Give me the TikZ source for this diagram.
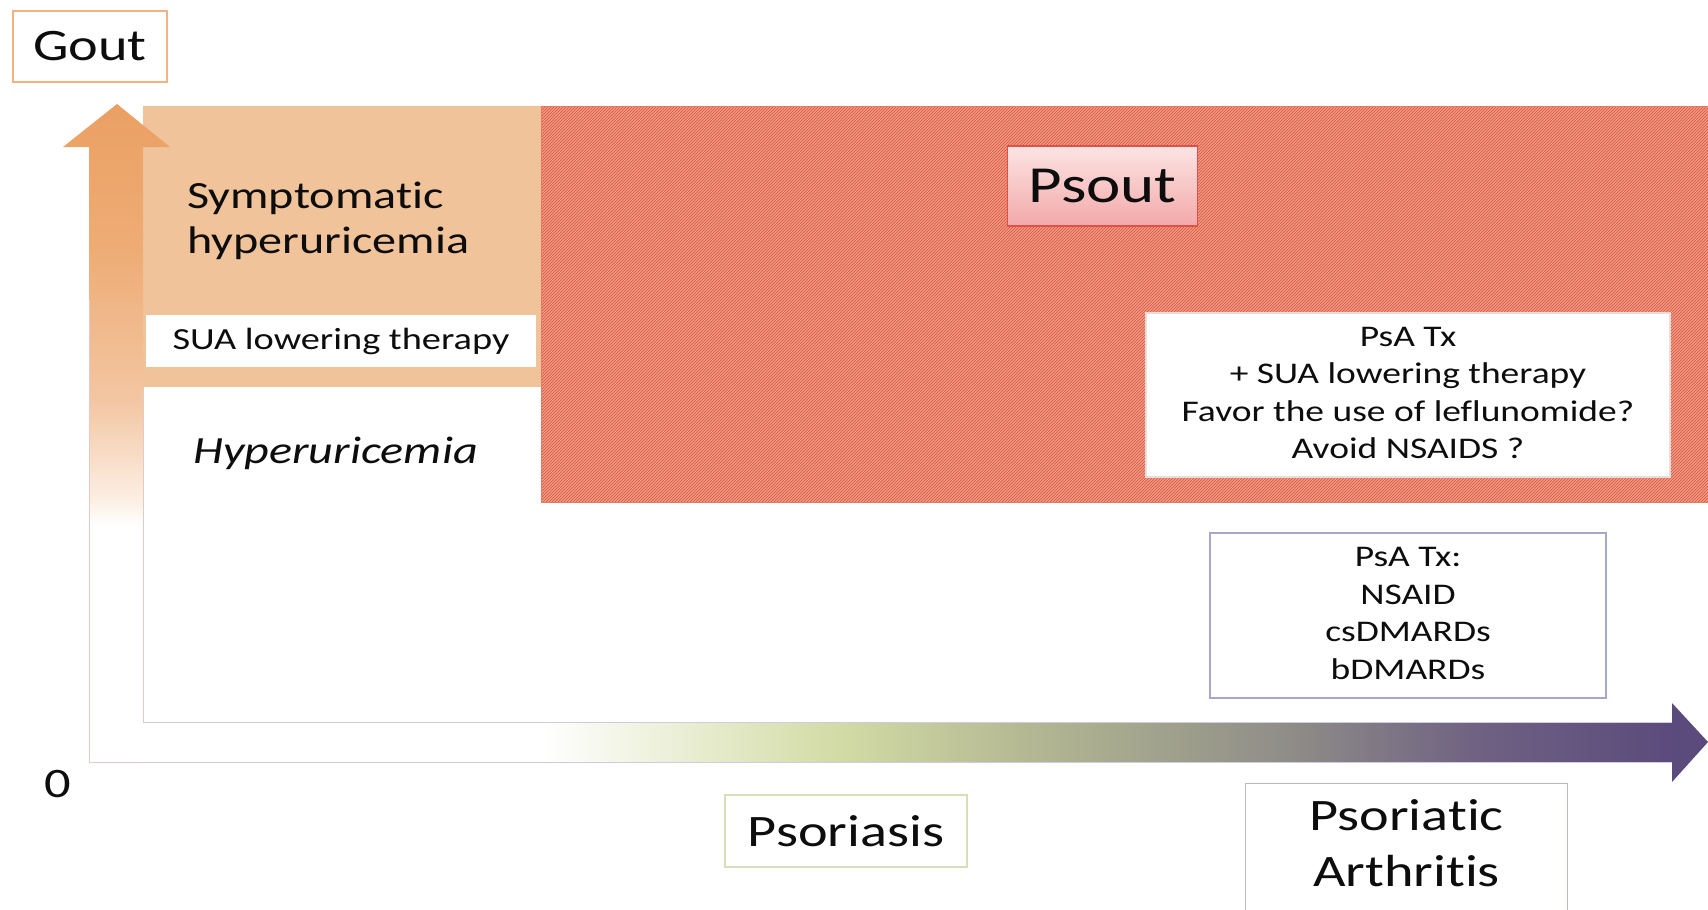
\documentclass[tikz,border=0pt]{standalone}
\usepackage{fontspec}
\setmainfont{Carlito}[Ligatures=TeX, RawFeature={-liga;-clig;-calt;-dlig;-hlig}]
\usetikzlibrary{patterns}
\definecolor{axgreen}{HTML}{D3DCA6}
\definecolor{axolive}{HTML}{B4B892}
\definecolor{axgrey}{HTML}{8F8D88}
\definecolor{axmauve}{HTML}{6E6182}
\definecolor{axpurple}{HTML}{5B4A7C}
\definecolor{upA}{HTML}{FCEEE3}
\definecolor{upB}{HTML}{F3C6A2}
\definecolor{upC}{HTML}{EEAC75}
\definecolor{upD}{HTML}{EBA063}
\definecolor{orangefill}{HTML}{F1C39B}
\definecolor{goutborder}{HTML}{F4B183}
\definecolor{redfill}{HTML}{F09C86}
\definecolor{redline}{HTML}{D9503A}
\definecolor{redborder}{HTML}{E57A63}
\definecolor{psouttop}{HTML}{FCE4E4}
\definecolor{psoutbot}{HTML}{F3A9A9}
\definecolor{psoutborder}{HTML}{E0504A}
\definecolor{whiteboxborder}{HTML}{E6DCDA}
\definecolor{psaborder}{HTML}{A8A6C9}
\definecolor{psoborder}{HTML}{D6DFB8}
\definecolor{paborder}{HTML}{B9B6D6}
\definecolor{axpink}{HTML}{E5C9C4}
\definecolor{axlav}{HTML}{CFCBE0}
\definecolor{txt}{HTML}{0D0D0D}
\pgfdeclarehorizontalshading{xaxisshade}{100bp}{color(0bp)=(white); color(39bp)=(white); color(48bp)=(axgreen); color(54bp)=(axolive); color(62bp)=(axgrey); color(68bp)=(axmauve); color(74bp)=(axpurple); color(100bp)=(axpurple)}
\pgfdeclareverticalshading{yaxisshade}{100bp}{color(0bp)=(white); color(43bp)=(white); color(45bp)=(upA); color(52.5bp)=(upB); color(64bp)=(upC); color(75bp)=(upD); color(100bp)=(upD)}
\newcommand{\hstretch}[1]{\scalebox{1.25}[1]{#1}}
\begin{document}
\begin{tikzpicture}[x=1pt,y=-1pt,
  every node/.style={text=txt},
  labelbox/.style={inner sep=0pt, line width=1.2pt},
  bigfont/.style={font=\fontsize{45}{56}\selectfont},
  midfont/.style={font=\fontsize{38.5}{45}\selectfont},
  smallfont/.style={font=\fontsize{30}{37.5}\selectfont}]
\useasboundingbox (0,0) rectangle (1708,910);
\begin{scope}
\clip (0,0) rectangle (1708,910);
% red hatched zone
\fill[redfill] (541,106) rectangle (1708,502);
\fill[pattern=north east lines, pattern color=redline] (541,106) rectangle (1708,502);
\draw[redborder, line width=1pt] (1708,106) -- (541,106) -- (541,502) -- (1708,502);
% orange zone
\fill[orangefill] (143,106) rectangle (541,387);
% horizontal axis arrow
\shade[shading=xaxisshade] (89,722) -- (1672,722) -- (1672,703) -- (1708,742) -- (1672,782) -- (1672,762) -- (89,762) -- cycle;
% vertical axis arrow
\shade[shading=yaxisshade] (117,104) -- (170,147) -- (143,147) -- (143,762) -- (89,762) -- (89,147) -- (63,147) -- cycle;
% axis outlines
\draw[axpink, line width=0.9pt] (143,387) -- (143,722);
\draw[axpink, line width=0.9pt] (89,300) -- (89,762) -- (143,762);
\draw[axlav, line width=0.9pt] (143,722) -- (1672,722);
\draw[axlav, line width=0.9pt] (143,762) -- (1672,762);
% labels and boxes
\node[labelbox, bigfont, draw=goutborder, fill=white, minimum width=154pt, minimum height=71pt] (gout) at (90,46.5) {\hstretch{Gout}};
\node[midfont, anchor=base west, inner sep=0pt] (symp) at (187,208) {\hstretch{\begin{tabular}[t]{@{}l@{}}Symptomatic\\hyperuricemia\end{tabular}}};
\node[labelbox, font=\fontsize{30.7}{37}\selectfont, fill=white, minimum width=390pt, minimum height=52pt] (sua) at (341,341) {\hstretch{SUA lowering therapy}};
\node[anchor=base west, inner sep=0pt, font=\fontsize{38.5}{46}\selectfont\itshape] (hyp) at (193,463) {\hstretch{Hyperuricemia}};
\node[labelbox, font=\fontsize{52}{60}\selectfont, draw=psoutborder, top color=psouttop, bottom color=psoutbot, minimum width=190pt, minimum height=80pt] (psout) at (1102.5,186) {\hstretch{Psout}};
\node[labelbox, smallfont, fill=white, draw=whiteboxborder, minimum width=524pt, minimum height=164pt] (psatx2) at (1408,395) {\hstretch{\begin{tabular}{@{}c@{}}PsA Tx\\+ SUA lowering therapy\\Favor the use of leflunomide?\\Avoid NSAIDS ?\end{tabular}}};
\node[labelbox, smallfont, fill=white, draw=psaborder, minimum width=396pt, minimum height=165pt] (psatx1) at (1408,615.5) {\hstretch{\begin{tabular}{@{}c@{}}PsA Tx:\\NSAID\\csDMARDs\\bDMARDs\end{tabular}}};
\node[font=\fontsize{42}{50}\selectfont, inner sep=0pt] (zero) at (58,784) {\hstretch{0}};
\node[labelbox, bigfont, fill=white, draw=psoborder, minimum width=242pt, minimum height=72pt] (pso) at (846,831) {\hstretch{Psoriasis}};
\node[labelbox, bigfont, minimum width=321pt, minimum height=126pt] (psa) at (1406.5,847) {\hstretch{\begin{tabular}{@{}c@{}}Psoriatic\\Arthritis\end{tabular}}};
\draw[paborder, line width=1.2pt] ([yshift=-30pt]psa.south west) -- (psa.north west) -- (psa.north east) -- ([yshift=-30pt]psa.south east);
\end{scope}
\end{tikzpicture}
\end{document}
